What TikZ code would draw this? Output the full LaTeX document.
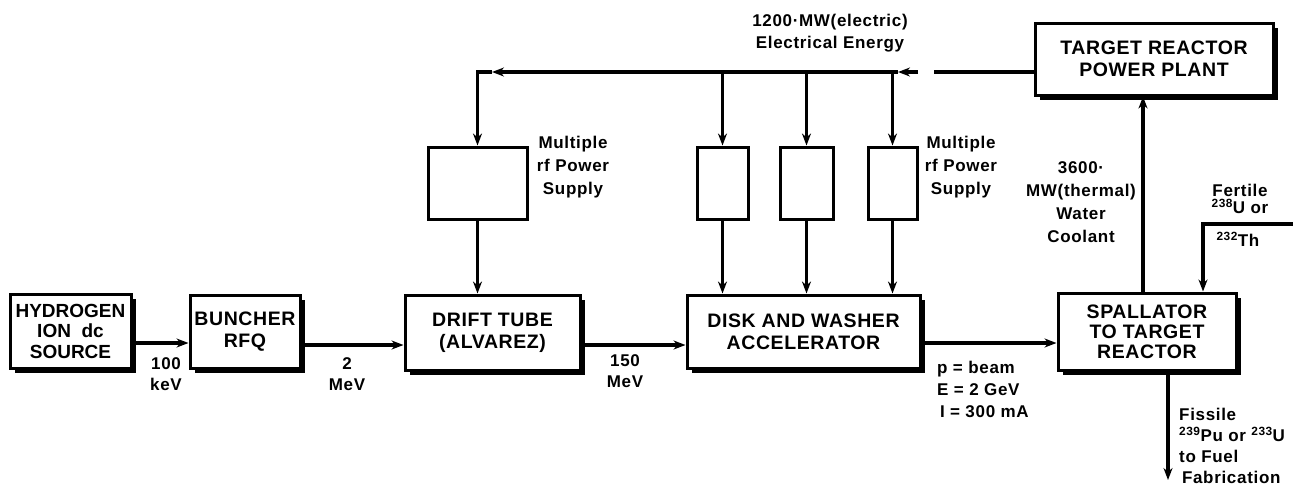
\documentclass[tikz,border=0pt]{standalone}
\usepackage{fontspec}
\setmainfont{Liberation Sans}
\newfontfamily\boxfont[LetterSpace=3]{Liberation Sans}
\newfontfamily\lblfont[LetterSpace=4]{Liberation Sans}
\usetikzlibrary{shadows,arrows.meta}
\begin{document}
\begin{tikzpicture}[x=1pt,y=-1pt,
  blk/.style={draw, fill=white, line width=3pt, inner sep=0pt, align=center,
    font=\boxfont\bfseries\fontsize{19.5}{22}\selectfont,
    drop shadow={fill=black, opacity=1, shadow xshift=4.5pt, shadow yshift=-4.5pt}},
  rfbox/.style={draw, line width=3pt, inner sep=0pt},
  lbl/.style={align=center, inner sep=0pt, font=\lblfont\bfseries\fontsize{17}{23}\selectfont},
  conn/.style={line width=3.2pt, -{Stealth[length=12pt, width=9pt]}},
  wire/.style={line width=3.2pt}]
\useasboundingbox (0,0) rectangle (1293,491);
% main blocks
\node[blk, minimum width=121pt, minimum height=74pt, font=\bfseries\fontsize{19}{20.5}\selectfont] (hyd) at (70.5,331) {HYDROGEN\\ION \ dc\\SOURCE};
\node[blk, minimum width=110pt, minimum height=73pt] (bun) at (245,331.5) {BUNCHER\\RFQ};
\node[blk, minimum width=175pt, minimum height=75pt] (drift) at (492.5,332.5) {DRIFT TUBE\\(ALVAREZ)};
\node[blk, minimum width=233pt, minimum height=73pt] (disk) at (803.5,331.5) {DISK AND WASHER\\ACCELERATOR};
\node[blk, minimum width=178pt, minimum height=77pt, font=\boxfont\bfseries\fontsize{19.5}{20}\selectfont] (spall) at (1147,331.5) {SPALLATOR\\TO TARGET\\REACTOR};
\node[blk, minimum width=238pt, minimum height=72pt] (pp) at (1154,59) {TARGET REACTOR\\POWER PLANT};
% rf power supplies
\node[rfbox, minimum width=99pt, minimum height=72pt] (rf1) at (477.5,183) {};
\node[rfbox, minimum width=51pt, minimum height=72pt] (rfa) at (722.5,183) {};
\node[rfbox, minimum width=53pt, minimum height=72pt] (rfb) at (806.5,183) {};
\node[rfbox, minimum width=49pt, minimum height=72pt] (rfc) at (892.5,183) {};
% coordinates
\coordinate (corner) at (477.5,72);
\coordinate (tipL) at (492,72);
\coordinate (tipR) at (898,72);
\coordinate (gapL) at (918,72);
\coordinate (gapR) at (934,72);
\coordinate (ya) at (0,343);
\coordinate (yb) at (0,345);
\coordinate (yc) at (0,343);
\coordinate (cx) at (1143,0);
\coordinate (fx) at (1203,0);
\coordinate (fert) at (1293,224);
\coordinate (fis) at (1168,480);
% electrical distribution
\draw[wire] (pp.west |- corner) -- (gapR);
\draw[conn] (gapL) -- (tipR);
\draw[conn] (tipR) -- (tipL);
\draw[conn] (tipL) -- (corner) -- (rf1.north);
\draw[conn] (rfa.north |- corner) -- (rfa.north);
\draw[conn] (rfb.north |- corner) -- (rfb.north);
\draw[conn] (rfc.north |- corner) -- (rfc.north);
\draw[conn] (rf1.south) -- (drift.north -| rf1.south);
\draw[conn] (rfa.south) -- (disk.north -| rfa.south);
\draw[conn] (rfb.south) -- (disk.north -| rfb.south);
\draw[conn] (rfc.south) -- (disk.north -| rfc.south);
% beam line
\draw[conn] (hyd.east |- ya) -- (bun.west |- ya);
\draw[conn] (bun.east |- yb) -- (drift.west |- yb);
\draw[conn] (drift.east |- yb) -- (disk.west |- yb);
\draw[conn] (disk.east |- yc) -- (spall.west |- yc);
% reactor flows
\draw[conn] (spall.north -| cx) -- (pp.south -| cx);
\draw[conn] (fert) -- (fert -| fx) -- (spall.north -| fx);
\draw[conn] (spall.south -| fis) -- (fis);
% labels
\node[lbl, font=\lblfont\bfseries\fontsize{17}{22}\selectfont] (elec) at (830,33) {1200·MW(electric)\\Electrical Energy};
\node[lbl] (mrf1) at (573,167) {Multiple\\rf Power\\Supply};
\node[lbl] (mrf2) at (961,167) {Multiple\\rf Power\\Supply};
\node[lbl, font=\lblfont\bfseries\fontsize{17}{23}\selectfont] (cool) at (1081,202) {3600·\\MW(thermal)\\Water\\Coolant};
\node[lbl, font=\lblfont\bfseries\fontsize{17}{17}\selectfont] (fertl) at (1240,199) {Fertile\\\textsuperscript{238}U or};
\node[lbl] (th) at (1238,239) {\textsuperscript{232}Th};
\node[lbl, font=\lblfont\bfseries\fontsize{17}{21}\selectfont] (kev) at (166,374) {100\\keV};
\node[lbl, font=\lblfont\bfseries\fontsize{17}{21}\selectfont] (mev2) at (347,374) {2\\MeV};
\node[lbl, font=\lblfont\bfseries\fontsize{17}{21}\selectfont] (mev150) at (625,371) {150\\MeV};
\node[lbl, align=left, anchor=west, font=\lblfont\bfseries\fontsize{17}{22}\selectfont] (beam) at (937,389) {p = beam\\E = 2 GeV\\\,I = 300 mA};
\node[lbl, align=left, anchor=west, font=\lblfont\bfseries\fontsize{17}{21}\selectfont] (fiss) at (1179,446) {Fissile\\\textsuperscript{239}Pu or \textsuperscript{233}U\\to Fuel\\\,Fabrication};
\end{tikzpicture}
\end{document}
